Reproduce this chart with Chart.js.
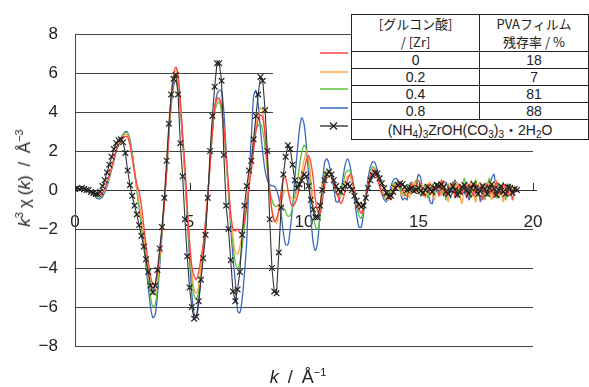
<!DOCTYPE html>
<html><head><meta charset="utf-8">
<script src="https://cdn.jsdelivr.net/npm/chart.js@4.4.1/dist/chart.umd.min.js"></script>
<style>
html,body{margin:0;padding:0;background:#fff;}
#wrap{position:relative;width:589px;height:387px;overflow:hidden;font-family:"Liberation Sans",Arial,sans-serif;color:#222;}
canvas{position:absolute;left:0;top:0;}
.ytitle{position:absolute;left:25px;top:178px;transform:translate(-50%,-50%) rotate(-90deg);white-space:nowrap;font-size:17px;}
.xtitle{position:absolute;left:298px;top:377px;transform:translate(-50%,-50%);white-space:nowrap;font-size:18px;}
.gap{display:inline-block;width:9px;}
.sgap{display:inline-block;width:4px;}
sup{font-size:11px;vertical-align:7px;line-height:0;}
sub{font-size:10px;vertical-align:-3px;line-height:0;}
table{position:absolute;left:351px;top:14px;border-collapse:collapse;background:#fff;font-family:"Liberation Sans","Noto Sans CJK JP",sans-serif;color:#222;table-layout:fixed;}
td{border:1.5px solid #222;text-align:center;padding:0;line-height:1;font-size:14px;overflow:hidden;white-space:nowrap;}
td.h{font-size:13px;line-height:18px;font-family:"Noto Sans CJK JP","Liberation Sans",sans-serif;}
svg.sw{position:absolute;left:315px;top:44px;}
</style></head>
<body>
<div id="wrap">
<canvas id="c" width="589" height="387"></canvas>
<div class="ytitle"><i>k</i><sup>3</sup><span class="sgap"></span>χ<span class="sgap"></span>(<i>k</i>)<span class="sgap"></span> /<span class="sgap"></span> Å<sup>−3</sup></div>
<div class="xtitle"><i>k</i><span class="gap"></span>/<span class="gap"></span>Å<sup>−1</sup></div>
<svg class="sw" width="40" height="92" viewBox="0 0 40 92">
  <line x1="5" y1="9" x2="33" y2="9" stroke="#ff4040" stroke-width="1.5"/>
  <line x1="5" y1="28" x2="33" y2="28" stroke="#ffa64d" stroke-width="1.5"/>
  <line x1="5" y1="45" x2="33" y2="45" stroke="#5cc23a" stroke-width="1.5"/>
  <line x1="5" y1="64" x2="33" y2="64" stroke="#3a68c0" stroke-width="1.5"/>
  <line x1="5" y1="82" x2="33" y2="82" stroke="#444" stroke-width="1.5"/>
  <line x1="15" y1="78.5" x2="22" y2="85.5" stroke="#222" stroke-width="1.2"/>
  <line x1="15" y1="85.5" x2="22" y2="78.5" stroke="#222" stroke-width="1.2"/>
</svg>
<table>
<colgroup><col style="width:133px"><col style="width:112px"></colgroup>
<tr style="height:34px"><td class="h">[グルコン酸]<br>/ [Zr]</td><td class="h">PVAフィルム<br>残存率 / %</td></tr>
<tr style="height:17px"><td id="r0a"></td><td id="r0b"></td></tr>
<tr style="height:17px"><td id="r1a"></td><td id="r1b"></td></tr>
<tr style="height:17px"><td id="r2a"></td><td id="r2b"></td></tr>
<tr style="height:17px"><td id="r3a"></td><td id="r3b"></td></tr>
<tr style="height:20px"><td colspan="2">(NH<sub>4</sub>)<sub>3</sub>ZrOH(CO<sub>3</sub>)<sub>3</sub>・2H<sub>2</sub>O</td></tr>
</table>
</div>
<script>
// legend table values
const ratioLabels = ['0', '0.2', '0.4', '0.8'];
const survivalLabels = ['18', '7', '81', '88'];

// k grid (Å^-1)
const kValues = [
0.0,0.1,0.2,0.3,0.4,0.5,0.6,0.7,0.8,0.9,
1.0,1.1,1.2,1.3,1.4,1.5,1.6,1.7,1.8,1.9,
2.0,2.1,2.2,2.3,2.4,2.5,2.6,2.7,2.8,2.9,
3.0,3.1,3.2,3.3,3.4,3.5,3.6,3.7,3.8,3.9,
4.0,4.1,4.2,4.3,4.4,4.5,4.6,4.7,4.8,4.9,
5.0,5.1,5.2,5.3,5.4,5.5,5.6,5.7,5.8,5.9,
6.0,6.1,6.2,6.3,6.4,6.5,6.6,6.7,6.8,6.9,
7.0,7.1,7.2,7.3,7.4,7.5,7.6,7.7,7.8,7.9,
8.0,8.1,8.2,8.3,8.4,8.5,8.6,8.7,8.8,8.9,
9.0,9.1,9.2,9.3,9.4,9.5,9.6,9.7,9.8,9.9,
10.0,10.1,10.2,10.3,10.4,10.5,10.6,10.7,10.8,10.9,
11.0,11.1,11.2,11.3,11.4,11.5,11.6,11.7,11.8,11.9,
12.0,12.1,12.2,12.3,12.4,12.5,12.6,12.7,12.8,12.9,
13.0,13.1,13.2,13.3,13.4,13.5,13.6,13.7,13.8,13.9,
14.0,14.1,14.2,14.3,14.4,14.5,14.6,14.7,14.8,14.9,
15.0,15.1,15.2,15.3,15.4,15.5,15.6,15.7,15.8,15.9,
16.0,16.1,16.2,16.3,16.4,16.5,16.6,16.7,16.8,16.9,
17.0,17.1,17.2,17.3,17.4,17.5,17.6,17.7,17.8,17.9,
18.0,18.1,18.2,18.3,18.4,18.5,18.6,18.7,18.8,18.9,
19.0,19.1,19.2,19.3];

// [gluconic acid]/[Zr] = 0
const chiRatio0 = [
0,0,0,0,0,0,-0.05,-0.1,-0.15,-0.2,
-0.25,-0.25,-0.15,0.1,0.4,0.8,1.2,1.6,2.0,2.3,
2.5,2.65,2.75,2.7,2.3,1.6,0.9,0.3,-0.1,-0.8,
-1.8,-2.8,-3.7,-4.4,-4.85,-4.8,-4.2,-3.2,-2.0,-0.7,
1.0,3.0,4.8,5.9,6.3,5.9,4.6,2.8,1.3,-0.9,
-2.6,-3.9,-4.4,-4.6,-4.2,-3.5,-2.8,-1.7,-0.3,1.3,
3.0,4.2,4.7,4.7,4.3,3.2,1.8,0.3,-1.2,-2.0,
-2.1,-2.0,-2.2,-2.1,-1.5,-0.8,0.2,1.0,2.0,3.0,
3.6,3.85,3.7,2.8,1.4,0.0,-1.1,-1.6,-1.5,-1.0,
-0.1,0.6,0.6,0.0,-0.6,-0.85,-0.7,-0.4,0.1,0.6,
1.0,1.5,1.75,1.4,0.6,-0.5,-1.1,-1.2,-0.6,0.2,
0.7,0.9,0.7,0.3,-0.1,-0.4,-0.7,-0.5,0.0,0.5,
0.8,0.7,0.0,-0.6,-1.0,-1.2,-0.9,-0.4,0.2,0.7,
0.9,1.0,0.6,0.2,-0.2,-0.3,-0.1,-0.4,-0.5,0.0,
0.2,0.4,0.3,0.0,-0.2,-0.3,0.1,0.3,-0.1,0.2,
0.5,0.2,-0.3,0.1,0.3,-0.2,0.0,0.4,0.1,-0.3,
0.5,0.0,-0.3,0.2,-0.1,0.4,-0.4,0.1,0.3,-0.2,
0.2,-0.4,0.3,0.0,-0.3,0.3,-0.1,0.2,-0.5,0.1,
0.3,-0.2,0.1,-0.3,0.4,0.0,-0.2,0.3,0.1,-0.3,
0.2,-0.5,0.0,0.1];

// ratio = 0.2
const chiRatio02 = [
0,0,0,0,0,0,-0.05,-0.1,-0.2,-0.25,
-0.3,-0.3,-0.2,0.0,0.35,0.75,1.15,1.6,2.0,2.35,
2.55,2.75,2.85,2.8,2.4,1.7,0.9,0.1,-0.6,-1.4,
-2.3,-3.2,-4.1,-4.9,-5.35,-5.3,-4.6,-3.4,-2.0,-0.6,
1.0,3.0,4.7,5.7,6.1,5.7,4.5,2.8,1.0,-0.9,
-2.7,-4.2,-5.1,-5.3,-4.9,-3.9,-2.8,-1.6,-0.2,1.3,
3.0,4.1,4.6,4.6,4.2,3.1,1.6,0.1,-1.3,-2.4,
-3.2,-3.3,-2.9,-2.2,-1.3,-0.4,0.6,1.6,2.6,3.4,
3.8,4.2,4.0,2.9,1.5,0.1,-1.0,-1.5,-1.7,-1.2,
-0.6,-0.2,0.0,-0.1,-0.35,-0.45,-0.45,-0.1,0.4,0.9,
1.5,1.95,1.6,0.6,-0.7,-1.3,-1.3,-0.7,0.1,0.6,
0.9,1.0,0.8,0.4,0.0,-0.3,-0.35,0.0,0.4,0.7,
0.7,0.4,-0.1,-0.7,-1.0,-1.1,-0.8,-0.3,0.3,0.8,
1.1,1.0,0.7,0.3,0.0,-0.2,-0.4,-0.5,-0.2,0.2,
0.3,0.2,-0.1,-0.3,0.1,0.0,-0.4,0.2,0.4,0.0,
-0.2,0.3,0.1,-0.4,0.2,0.4,-0.2,-0.5,0.3,0.1,
-0.3,0.5,0.0,-0.6,0.3,0.1,-0.3,0.4,-0.2,-0.7,
0.2,0.3,-0.3,0.5,-0.1,-0.6,0.2,0.4,-0.2,-0.4,
0.4,0.0,-0.5,0.2,0.5,-0.3,0.1,-0.6,0.3,0.0,
-0.3,0.2,-0.1,0.0];

// ratio = 0.4
const chiRatio04 = [
0,0,0,0,0,0,-0.05,-0.1,-0.2,-0.3,
-0.35,-0.35,-0.25,0.0,0.3,0.7,1.1,1.55,2.0,2.4,
2.6,2.8,2.95,2.9,2.5,1.8,0.9,0.0,-0.8,-1.7,
-2.6,-3.6,-4.6,-5.5,-6.0,-5.9,-5.0,-3.6,-2.1,-0.6,
1.0,2.9,4.5,5.5,5.8,5.5,4.4,2.7,0.9,-1.0,
-2.9,-4.5,-5.4,-5.6,-5.2,-4.2,-3.0,-1.7,-0.2,1.4,
3.0,4.0,4.4,4.5,4.0,3.0,1.5,0.0,-1.5,-2.8,
-3.7,-4.0,-3.7,-2.9,-1.9,-0.8,0.4,1.5,2.4,3.1,
3.3,3.4,3.0,2.2,1.0,0.0,-0.5,-0.8,-0.85,-0.75,
-0.8,-0.9,-1.1,-1.35,-1.3,-0.9,-0.3,0.3,1.2,1.9,
2.3,2.1,1.4,0.3,-1.0,-1.9,-2.0,-1.4,0.1,0.8,
1.0,1.0,0.7,0.3,-0.1,-0.3,-0.2,0.3,0.8,1.0,
1.0,0.6,0.0,-0.8,-1.3,-1.45,-1.0,-0.4,0.3,0.9,
1.2,1.1,0.7,0.3,0.0,-0.3,-0.5,-0.4,0.0,0.3,
0.4,0.3,0.1,-0.2,-0.3,0.0,0.3,-0.1,0.2,0.5,
0.1,-0.3,0.0,0.3,-0.4,0.1,0.3,-0.2,0.0,0.4,
-0.2,0.1,-0.5,0.3,0.0,-0.2,0.4,-0.4,0.2,0.0,
0.6,-0.2,0.1,-0.4,0.2,0.5,-0.3,0.0,0.3,-0.5,
0.1,0.6,-0.2,0.0,-0.4,0.3,-0.1,0.4,-0.5,0.1,
0.3,-0.1,0.2,-0.1];

// ratio = 0.8
const chiRatio08 = [
0,0,0,0,0,0,-0.05,-0.15,-0.25,-0.35,
-0.45,-0.45,-0.35,-0.1,0.2,0.6,1.05,1.5,2.0,2.45,
2.65,2.85,3.0,2.95,2.6,1.9,1.0,0.0,-0.9,-1.8,
-2.8,-3.9,-5.0,-6.0,-6.55,-6.4,-5.4,-3.9,-2.3,-0.7,
0.9,2.8,4.3,5.3,5.6,5.3,4.2,2.5,0.7,-1.4,
-3.5,-5.3,-6.4,-6.5,-5.8,-4.5,-3.1,-1.6,-0.2,1.4,
3.0,4.2,4.9,5.1,5.1,4.0,2.0,-0.2,-1.9,-3.5,
-4.7,-6.2,-6.3,-5.6,-4.3,-2.6,0.6,2.7,4.8,5.1,
4.4,3.1,1.9,1.0,0.5,0.3,0.2,0.2,0.0,-0.4,
-1.2,-2.2,-2.8,-2.8,-2.0,-0.9,0.6,1.9,3.1,3.7,
3.4,2.3,0.7,-1.3,-2.7,-3.1,-2.6,-1.2,0.3,1.4,
1.6,1.3,0.7,0.1,-0.6,-0.6,-0.2,0.6,1.3,1.6,
1.3,0.6,-0.4,-1.3,-1.9,-1.9,-1.2,-0.2,0.6,1.2,
1.45,1.4,1.0,0.3,-0.2,-0.5,-0.6,-0.3,0.2,0.5,
0.6,0.5,0.0,-0.5,-0.4,-0.5,0.2,0.4,0.0,0.3,
0.8,0.6,-0.2,-0.3,0.0,-0.6,-0.7,0.1,0.3,-0.2,
0.2,-0.3,0.4,0.0,-0.4,0.3,0.5,0.0,-0.3,0.2,
-0.2,0.4,-0.5,0.0,0.3,-0.2,0.2,-0.6,0.1,0.3,
-0.3,0.2,0.6,0.8,-0.2,-0.4,0.2,0.0,-0.3,0.3,
0.0,-0.2,0.1,0.0];

// (NH4)3ZrOH(CO3)3·2H2O reference
const chiReference = [
0.05,0.1,0.05,0.1,0.05,0.0,0.0,-0.1,-0.15,-0.2,
-0.2,-0.1,0.2,0.5,0.9,1.3,1.7,2.1,2.4,2.55,
2.6,2.45,1.9,1.0,0.25,-0.3,-0.8,-1.25,-1.8,-2.35,
-2.9,-3.55,-4.2,-4.9,-5.25,-4.9,-4.1,-3.0,-1.9,-0.4,
1.5,3.4,4.9,5.7,5.9,4.9,2.4,0.7,-1.5,-3.4,
-5.0,-6.0,-6.6,-6.5,-5.7,-4.6,-3.5,-2.3,-0.4,2.0,
3.8,5.3,6.5,6.5,5.6,1.8,-0.8,-2.0,-3.6,-5.2,
-5.7,-5.1,-4.2,-2.3,-0.8,0.2,1.0,1.5,2.6,3.8,
4.9,5.8,5.6,4.1,2.0,-1.5,-4.0,-5.2,-5.3,-3.2,
-0.9,0.8,1.7,2.3,2.1,1.3,0.5,0.1,0.3,0.5,
0.8,0.7,0.2,-0.5,-1.0,-1.4,-1.4,-0.8,0.0,0.5,
0.8,0.95,0.8,0.5,0.2,0.0,-0.1,0.05,0.2,0.3,
0.2,0.0,-0.3,-0.55,-0.75,-0.85,-0.8,-0.4,0.1,0.5,
0.75,0.9,0.85,0.6,0.35,0.1,-0.15,-0.35,-0.3,-0.1,
0.1,0.25,0.35,0.3,0.15,0.0,0.05,0.1,-0.05,0.0,
0.1,-0.05,-0.15,0.0,0.15,0.05,-0.1,0.1,0.25,0.2,
0.3,0.15,-0.1,-0.2,0.0,0.2,0.0,-0.25,-0.1,0.15,
0.25,0.0,-0.2,0.1,0.3,0.1,-0.2,-0.05,0.2,0.05,
-0.2,0.1,0.3,0.05,-0.25,0.0,0.2,-0.1,-0.2,0.15,
0.1,-0.15,0.05,0.0];

const xTicks = [0, 5, 10, 15, 20];
const yTicks = [-8, -6, -4, -2, 0, 2, 4, 6, 8];

ratioLabels.forEach((t, i) => {
  document.getElementById('r' + i + 'a').textContent = t;
  document.getElementById('r' + i + 'b').textContent = survivalLabels[i];
});

const pts = arr => kValues.map((k, i) => ({x: k, y: arr[i]}));

const decor = {
  id: 'decor',
  beforeDatasetsDraw(c) {
    const ctx = c.ctx, ys = c.scales.y;
    ctx.save();
    ctx.fillStyle = '#fff';
    const t = ys.getPixelForValue(7.7), b = ys.getPixelForValue(3.6);
    ctx.fillRect(273, t, 78, b - t);
    ctx.restore();
  },
  afterDraw(c) {
    const ctx = c.ctx, xs = c.scales.x, ys = c.scales.y;
    const y0 = ys.getPixelForValue(0);
    ctx.save();
    ctx.strokeStyle = '#333';
    ctx.lineWidth = 1;
    ctx.beginPath();
    xTicks.slice(1).forEach(v => {
      const px = Math.round(xs.getPixelForValue(v)) + 0.5;
      ctx.moveTo(px, y0); ctx.lineTo(px, y0 - 7);
    });
    ctx.moveTo(xs.getPixelForValue(20), Math.round(y0) + 0.5);
    ctx.lineTo(xs.getPixelForValue(20) + 4, Math.round(y0) + 0.5);
    ctx.stroke();
    ctx.restore();
  }
};

const lineDs = (arr, color, order) => ({
  data: pts(arr), borderColor: color, borderWidth: 1.3, pointRadius: 0,
  tension: 0.3, order: order, fill: false
});

new Chart(document.getElementById('c'), {
  type: 'line',
  data: {
    datasets: [
      {
        data: pts(chiReference), borderColor: '#333', borderWidth: 1.1,
        pointStyle: 'crossRot', pointRadius: 4, pointBorderWidth: 1.2,
        pointBorderColor: '#222', tension: 0, order: 0, fill: false
      },
      lineDs(chiRatio0, '#ff4040', 1),
      lineDs(chiRatio02, '#ffa64d', 2),
      lineDs(chiRatio04, '#5cc23a', 3),
      lineDs(chiRatio08, '#3a68c0', 4)
    ]
  },
  options: {
    responsive: false,
    animation: false,
    events: [],
    layout: {padding: {left: 0, right: 56, top: 34, bottom: 41}},
    plugins: {legend: {display: false}, tooltip: {enabled: false}},
    scales: {
      x: {
        type: 'linear', min: 0, max: 20, position: {y: 0},
        afterBuildTicks: s => { s.ticks = xTicks.map(v => ({value: v})); },
        ticks: {font: {size: 17, family: 'Liberation Sans'}, color: '#222', padding: 22, maxRotation: 0, autoSkip: false},
        grid: {drawOnChartArea: false, drawTicks: false},
        border: {display: true, color: '#333', width: 1}
      },
      y: {
        min: -8, max: 8,
        afterBuildTicks: s => { s.ticks = yTicks.map(v => ({value: v})); },
        afterFit: s => { s.width = 75; },
        ticks: {
          font: {size: 17, family: 'Liberation Sans'}, color: '#222', padding: 17,
          callback: v => (v < 0 ? '\u2212' + Math.abs(v) : String(v))
        },
        grid: {color: '#444', lineWidth: 1, drawTicks: false},
        border: {display: true, color: '#444', width: 1}
      }
    }
  },
  plugins: [decor]
});
</script>
</body></html>
